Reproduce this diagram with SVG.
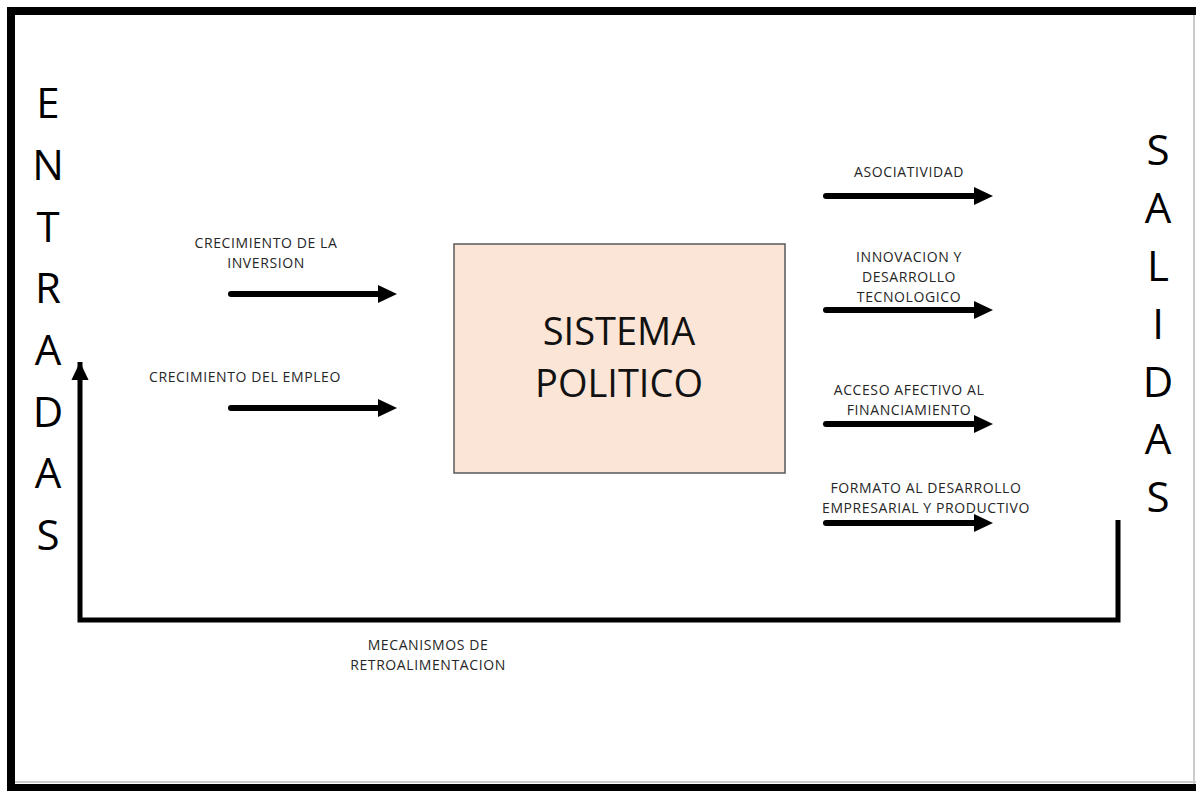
<svg xmlns="http://www.w3.org/2000/svg" width="1196" height="791" viewBox="0 0 1196 791">
<style>
.lbl{font-family:"Open Sans","Noto Sans","Liberation Sans",sans-serif;font-size:14px;letter-spacing:0.6px;fill:#262626;text-anchor:middle}
.big{font-family:"Open Sans","Noto Sans","Liberation Sans",sans-serif;font-size:42px;fill:#000;text-anchor:middle}
.title{font-family:"Open Sans","Noto Sans","Liberation Sans",sans-serif;font-size:38px;fill:#111;text-anchor:middle}
.arr{stroke:#000;stroke-width:6;stroke-linecap:round;fill:none}
.fb{stroke:#000;stroke-width:5;fill:none;stroke-linejoin:miter}
</style>
<defs>
<marker id="ah" markerUnits="userSpaceOnUse" markerWidth="20" markerHeight="20" refX="8" refY="10" orient="auto" viewBox="0 0 20 20">
<path d="M0,1 L19,10 L0,19 Z" fill="#000"/>
</marker>
<marker id="ahv" markerUnits="userSpaceOnUse" markerWidth="20" markerHeight="22" refX="20" refY="10" orient="auto" viewBox="0 0 22 20">
<path d="M0,0.5 L20,10 L0,19.5 Z" fill="#000"/>
</marker>
</defs>
<rect x="0" y="0" width="1196" height="791" fill="#fff"/>
<g id="frame">
<line x1="1194" y1="10" x2="1194" y2="791" stroke="#ccc" stroke-width="2"/>
<line x1="11" y1="782" x2="1196" y2="782" stroke="#ccc" stroke-width="2"/>
<path d="M11,791 L11,11 L1196,11" stroke="#000" stroke-width="8" fill="none"/>
<rect x="7" y="784" width="1189" height="7" fill="#000"/>
</g>
<g id="entradas">
<text class="big" x="48" y="118">E</text>
<text class="big" x="48" y="180">N</text>
<text class="big" x="48" y="242">T</text>
<text class="big" x="48" y="303">R</text>
<text class="big" x="48" y="365">A</text>
<text class="big" x="48" y="427">D</text>
<text class="big" x="48" y="488">A</text>
<text class="big" x="48" y="550">S</text>
</g>
<g id="salidas">
<text class="big" x="1158" y="165">S</text>
<text class="big" x="1158" y="223">A</text>
<text class="big" x="1158" y="281">L</text>
<text class="big" x="1158" y="339">I</text>
<text class="big" x="1158" y="397">D</text>
<text class="big" x="1158" y="454">A</text>
<text class="big" x="1158" y="512">S</text>
</g>
<g id="sistema">
<rect x="454" y="244" width="331" height="229" fill="#FBE5D6" stroke="#595959" stroke-width="1.5"/>
<text class="title" x="619" y="345">SISTEMA</text>
<text class="title" x="619" y="397">POLITICO</text>
</g>
<g id="labels">
<text class="lbl" x="266" y="248">CRECIMIENTO DE LA</text>
<text class="lbl" x="266" y="268">INVERSION</text>
<text class="lbl" x="245" y="382">CRECIMIENTO DEL EMPLEO</text>
<text class="lbl" x="909" y="177">ASOCIATIVIDAD</text>
<text class="lbl" x="909" y="262">INNOVACION Y</text>
<text class="lbl" x="909" y="282">DESARROLLO</text>
<text class="lbl" x="909" y="302">TECNOLOGICO</text>
<text class="lbl" x="909" y="395">ACCESO AFECTIVO AL</text>
<text class="lbl" x="909" y="415">FINANCIAMIENTO</text>
<text class="lbl" x="926" y="493">FORMATO AL DESARROLLO</text>
<text class="lbl" x="926" y="513">EMPRESARIAL Y PRODUCTIVO</text>
<text class="lbl" x="428" y="650">MECANISMOS DE</text>
<text class="lbl" x="428" y="670">RETROALIMENTACION</text>
</g>
<g id="connectors">
<line class="arr" x1="231" y1="294" x2="386" y2="294" marker-end="url(#ah)"/>
<line class="arr" x1="231" y1="408" x2="386" y2="408" marker-end="url(#ah)"/>
<line class="arr" x1="826" y1="196" x2="982" y2="196" marker-end="url(#ah)"/>
<line class="arr" x1="826" y1="310" x2="982" y2="310" marker-end="url(#ah)"/>
<line class="arr" x1="826" y1="424" x2="982" y2="424" marker-end="url(#ah)"/>
<line class="arr" x1="826" y1="523" x2="982" y2="523" marker-end="url(#ah)"/>
<path class="fb" d="M1118,520 L1118,620 L80,620 L80,362" marker-end="url(#ahv)"/>
</g>
</svg>
